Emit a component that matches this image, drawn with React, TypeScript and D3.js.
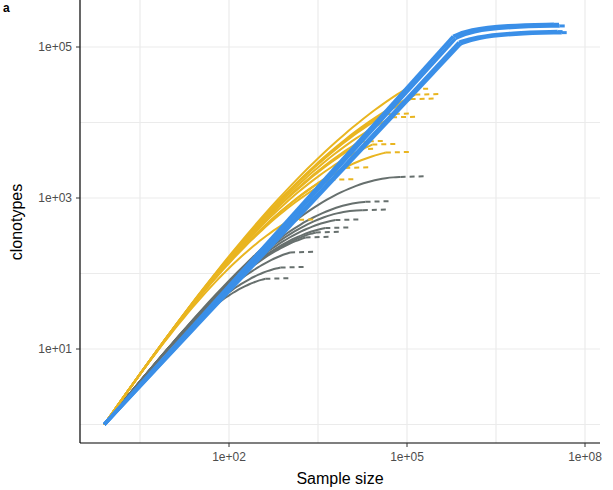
import React from "react";
import * as d3 from "d3";

const W = 613, H = 490;
const yellowN = [9.3e4, 1.38e5, 1.15e5, 4.4e4, 5.6e4, 1.6e4, 2.6e4, 4.4e4, 9.1e3, 5.1e3, 1.07e3, 1.1e4];
const yellowS = [2.75e4, 2.34e4, 2.04e4, 1.29e4, 1.17e4, 5.6e3, 5.1e3, 4.0e3, 2.5e3, 1.74e3, 5.1e2, 4.4e3];
const grayN = [7.8e4, 2.0e4, 1.8e4, 6.2e3, 4.2e3, 2.9e3, 1.95e3, 1.07e3, 7.4e2, 4.1e2];
const grayS = [1.9e3, 8.9e2, 6.9e2, 5.1e2, 4.0e2, 3.5e2, 3.0e2, 1.9e2, 1.2e2, 8.5e1];
const blueN = [6.0e5, 6.6e5, 7.5e5, 8.0e5];
const blueS = [1.38e5, 1.3e5, 1.15e5, 1.1e5];
const blueExtN = [4.0e7, 5.0e7, 4.6e7, 5.4e7];
const blueExtS = [2.0e5, 1.9e5, 1.6e5, 1.55e5];
const xTicks = [1e2, 1e5, 1e8];
const yTicks = [1e1, 1e3, 1e5];
const xGrid = [10 ** 0.5, 1e2, 10 ** 3.5, 1e5, 10 ** 6.5, 1e8];
const yGrid = [1, 10, 100, 1e3, 1e4, 1e5];
const START_N = 0.79;
const YEL = "#e9b520", GRY = "#67706e", BLU = "#3a8fe8";

const L = 80, R = 600, T = 0, B = 443;
const x = d3.scaleLog().domain([1e2, 1e5]).range([229, 407]);
const y = d3.scaleLog().domain([1e3, 1e5]).range([198, 47]);
const line = d3.line<[number, number]>().x(d => x(d[0])).y(d => y(d[1])).curve(d3.curveBasis);

function curve(N: number, S: number, k: number, p: number): [number, number][] {
  const u0 = Math.log10(START_N);
  const vN = Math.log10(N) - u0, lS = Math.log10(S);
  const c = (k * vN - lS) / Math.pow(vN, p);
  return d3.range(0, 41).map(i => {
    const v = (vN * i) / 40;
    return [10 ** (v + u0), 10 ** (k * v - c * Math.pow(v, p))] as [number, number];
  });
}

export default function App() {
  const groups = [
    { N: grayN, S: grayS, col: GRY, k: 0.95, p: 3.2 },
    { N: yellowN, S: yellowS, col: YEL, k: 1.12, p: 2.6 },
  ];
  const fmt = (v: number) => d3.format(".0e")(v).replace("e+", "e+0");
  return (
    <svg width={W} height={H} style={{ display: "block", position: "absolute", left: 0, top: 0 }} fontFamily="Liberation Sans, Arial, sans-serif">
      <rect width={W} height={H} fill="white" />
      {xGrid.map((v, i) => <line key={"gx" + i} x1={x(v)} x2={x(v)} y1={T} y2={B} stroke="#ebebeb" strokeWidth={1.2} />)}
      {yGrid.map((v, i) => <line key={"gy" + i} x1={L} x2={R} y1={y(v)} y2={y(v)} stroke="#ebebeb" strokeWidth={1.2} />)}
      {groups.map((g, gi) => g.N.map((N, i) => (
        <g key={gi + "-" + i}>
          <path d={line(curve(N, g.S[i], g.k, g.p))!} fill="none" stroke={g.col} strokeWidth={2} />
          <line x1={x(N)} y1={y(g.S[i])} x2={x(N * 2.6)} y2={y(g.S[i] * 1.02)} stroke={g.col} strokeWidth={2} strokeDasharray="5,4" />
        </g>
      )))}
      {blueN.map((N, i) => (
        <g key={"b" + i}>
          <path d={line([[START_N, 1], [N, blueS[i]]])!} fill="none" stroke={BLU} strokeWidth={3.5} />
          <path d={line([[N, blueS[i]], [N * 1.8, blueExtS[i] * 0.85], [N * 8, blueExtS[i] * 0.97], [blueExtN[i] * 0.75, blueExtS[i]]])!} fill="none" stroke={BLU} strokeWidth={3.5} />
          <line x1={x(blueExtN[i] * 0.75)} y1={y(blueExtS[i])} x2={x(blueExtN[i])} y2={y(blueExtS[i])} stroke={BLU} strokeWidth={3} strokeDasharray="5,3" />
        </g>
      ))}
      <line x1={L} x2={L} y1={T} y2={B} stroke="black" strokeWidth={1.2} />
      <line x1={L} x2={R} y1={B} y2={B} stroke="black" strokeWidth={1.2} />
      {xTicks.map(v => (
        <g key={"xt" + v}>
          <line x1={x(v)} x2={x(v)} y1={B} y2={B + 4} stroke="#333" />
          <text x={x(v)} y={B + 18} fontSize={12} textAnchor="middle" fill="#4d4d4d">{fmt(v)}</text>
        </g>
      ))}
      {yTicks.map(v => (
        <g key={"yt" + v}>
          <line x1={L - 4} x2={L} y1={y(v)} y2={y(v)} stroke="#333" />
          <text x={L - 8} y={y(v) + 4} fontSize={12} textAnchor="end" fill="#4d4d4d">{fmt(v)}</text>
        </g>
      ))}
      <text x={340} y={484} fontSize={16} textAnchor="middle">Sample size</text>
      <text transform={`translate(22,${222}) rotate(-90)`} fontSize={16} textAnchor="middle">clonotypes</text>
      <text x={3} y={12} fontSize={12} fontWeight="bold">a</text>
    </svg>
  );
}
